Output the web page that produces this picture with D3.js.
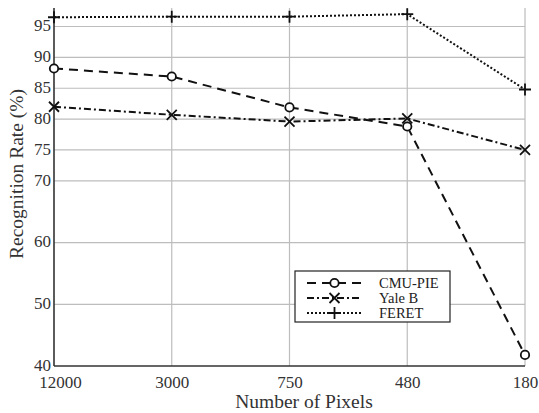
<!DOCTYPE html>
<html>
<head>
<meta charset="utf-8">
<script src="https://cdn.jsdelivr.net/npm/d3@7"></script>
<style>
body { margin: 0; background: #fff; }
svg text { font-family: "Liberation Serif", "Times New Roman", Times, serif; }
</style>
</head>
<body>
<svg id="chart" width="539" height="413"></svg>
<script>
var pixels = ["12000", "3000", "750", "480", "180"];
var yTicks = [40, 50, 60, 70, 75, 80, 85, 90, 95];
var cmuPie = [88.2, 86.9, 81.9, 78.8, 41.8];
var yaleB = [82.0, 80.7, 79.6, 80.1, 75.0];
var feret = [96.5, 96.6, 96.6, 97.0, 84.8];

var series = [
  {name: "CMU-PIE", values: cmuPie, dash: "9,6", marker: "circle"},
  {name: "Yale B", values: yaleB, dash: "7,3,2,3", marker: "x"},
  {name: "FERET", values: feret, dash: "2,2", marker: "plus"}
];

var svg = d3.select("#chart");
var plotL = 54, plotR = 525, plotT = 8, plotB = 366;

var x = d3.scalePoint().domain(pixels).range([plotL, plotR]);
var y = d3.scaleLinear().domain([40, 98]).range([plotB, plotT]);

// grid
svg.append("g").selectAll("line").data(yTicks.slice(1)).enter().append("line")
  .attr("x1", plotL).attr("x2", plotR)
  .attr("y1", d => y(d)).attr("y2", d => y(d))
  .attr("stroke", "#bdbdbd").attr("stroke-width", 1.2);
svg.append("g").selectAll("line").data(pixels.slice(1)).enter().append("line")
  .attr("x1", d => x(d)).attr("x2", d => x(d))
  .attr("y1", plotT).attr("y2", plotB)
  .attr("stroke", "#bdbdbd").attr("stroke-width", 1.2);

// axes
var yAxis = svg.append("g").attr("transform", "translate(" + plotL + ",0)")
  .call(d3.axisLeft(y).tickValues(yTicks).tickSize(0).tickPadding(3));
var xAxis = svg.append("g").attr("transform", "translate(0," + plotB + ")")
  .call(d3.axisBottom(x).tickSize(0).tickPadding(10));
[yAxis, xAxis].forEach(function(a) {
  a.attr("font-family", null);
  a.select(".domain").attr("stroke", "#333").attr("stroke-width", 1.6);
  a.selectAll("text").attr("font-size", 17).attr("fill", "#333");
});
yAxis.selectAll("text").attr("dy", "0.25em");
// first label sits a little right of the axis, as in the original
xAxis.selectAll(".tick text").filter(d => d === pixels[0]).attr("dx", 6);
yAxis.select(".domain").attr("d", "M0," + plotB + "V" + plotT);
xAxis.select(".domain").attr("d", "M" + plotL + ",0H" + plotR);

svg.append("text").attr("x", 304).attr("y", 408)
  .attr("text-anchor", "middle").attr("font-size", 19.5).attr("fill", "#333")
  .text("Number of Pixels");
svg.append("text").attr("transform", "translate(23,174) rotate(-90)")
  .attr("text-anchor", "middle").attr("font-size", 19.5).attr("fill", "#333")
  .text("Recognition Rate (%)");

function drawMarker(g, type, cx, cy) {
  if (type === "circle") {
    g.append("circle").attr("cx", cx).attr("cy", cy).attr("r", 4.2)
      .attr("fill", "#fff").attr("stroke", "#111").attr("stroke-width", 1.8);
  } else if (type === "x") {
    var s = 5;
    g.append("path").attr("d", "M" + (cx - s) + "," + (cy - s) + "L" + (cx + s) + "," + (cy + s) +
      "M" + (cx - s) + "," + (cy + s) + "L" + (cx + s) + "," + (cy - s))
      .attr("stroke", "#111").attr("stroke-width", 1.8);
  } else {
    var p = 6;
    g.append("path").attr("d", "M" + (cx - p) + "," + cy + "H" + (cx + p) +
      "M" + cx + "," + (cy - p) + "V" + (cy + p))
      .attr("stroke", "#111").attr("stroke-width", 1.8);
  }
}

var line = d3.line().x((d, i) => x(pixels[i])).y(d => y(d));
series.forEach(function(s) {
  var g = svg.append("g");
  g.append("path").attr("d", line(s.values)).attr("fill", "none")
    .attr("stroke", "#111").attr("stroke-width", 2).attr("stroke-dasharray", s.dash);
  s.values.forEach(function(v, i) { drawMarker(g, s.marker, x(pixels[i]), y(v)); });
});

// legend
var lg = svg.append("g");
lg.append("rect").attr("x", 295).attr("y", 271).attr("width", 155).attr("height", 51)
  .attr("fill", "#fff").attr("stroke", "#222").attr("stroke-width", 1.2);
series.forEach(function(s, i) {
  var ly = 283 + i * 15;
  lg.append("line").attr("x1", 307).attr("x2", 362).attr("y1", ly).attr("y2", ly)
    .attr("stroke", "#111").attr("stroke-width", 2).attr("stroke-dasharray", s.dash);
  drawMarker(lg, s.marker, 334.5, ly);
  lg.append("text").attr("x", 379).attr("y", ly + 4.5).attr("font-size", 14.5)
    .attr("fill", "#222").text(s.name);
});
</script>
</body>
</html>
